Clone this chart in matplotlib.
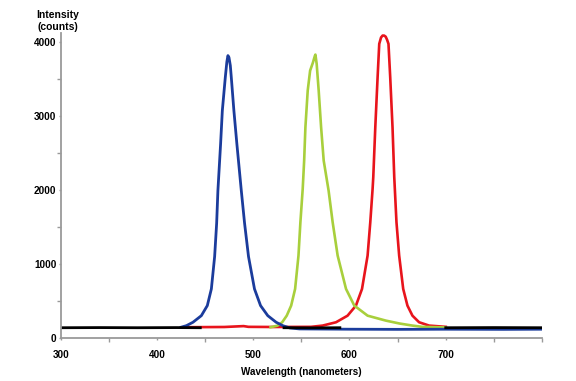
import numpy as np
from matplotlib import pyplot as plt

plt.rcParams['font.family'] = ['Liberation Sans', 'DejaVu Sans']

# emission spectra (wavelength nm, counts)
blue_nm = [425, 430.6, 437.4, 446.1, 452.3, 456.5, 459.9, 462.0, 463.3, 466.1, 467.9, 471.0,
           472.6, 473.7, 474.8, 476.2, 477.2, 479.9, 483.0, 487.6, 491.0, 495.1, 501.3,
           507.6, 515.1, 523.8, 530.7, 538, 548, 600, 650, 700, 760, 800]
blue_ct = [145, 166, 212, 301, 437, 662, 1099, 1550, 1991, 2622, 3072, 3523,
           3730, 3815, 3790, 3680, 3523, 3072, 2622, 1991, 1550, 1099, 662,
           437, 301, 212, 166, 135, 122, 118, 116, 118, 116, 118]

green_nm = [518, 525, 530.1, 534.8, 539.4, 543.5, 547.0, 549.0, 551.4, 552.9, 554.2, 556.6,
            559.1, 562.0, 564.0, 564.6, 565.9, 568.0, 570.5, 573.2, 578.3, 582.5, 587.7,
            596.4, 605.0, 618.8, 637.8, 652, 665.4, 675.5, 690, 700]
green_ct = [145, 165, 212, 301, 437, 662, 1112, 1564, 2014, 2396, 2847, 3342,
            3612, 3720, 3810, 3828, 3703, 3342, 2847, 2396, 1990, 1564, 1112,
            662, 437, 301, 234, 195, 167, 150, 145, 142]

red_nm = [430, 470, 490, 495, 520, 560, 572.1, 586.0, 598.0, 606.7, 613.0, 618.8, 621.6,
          624.0, 624.7, 626.8, 629.2, 630.9, 632.8, 634.4, 636.0, 637.6, 639.0, 640.5,
          642.3, 644.7, 646.5, 648.8, 651.6, 655.8, 660.2, 665.4, 672.3, 682.7, 700]
red_ct = [145, 148, 160, 150, 148, 150, 167, 212, 301, 437, 662, 1112, 1564,
          2014, 2172, 2847, 3523, 3973, 4060, 4085, 4085, 4070, 4030, 3973,
          3523, 2847, 2172, 1564, 1112, 662, 437, 301, 212, 167, 150]

black_nm = [300, 340, 380, 420, 445, np.nan, 532, 560, 590, np.nan, 700, 750, 800]
black_ct = [138, 140, 138, 140, 138, np.nan, 138, 136, 138, np.nan, 138, 140, 138]

fig = plt.figure(figsize=(5.76, 3.81), dpi=100)
ax = fig.add_axes([0.1054, 0.113, 0.8356, 0.8004])

ax.plot(red_nm, red_ct, color='#e8141c', lw=1.9, solid_joinstyle='round')
ax.plot(green_nm, green_ct, color='#a8cf3c', lw=1.9, solid_joinstyle='round')
ax.plot(blue_nm, blue_ct, color='#1b3c9c', lw=2.0, solid_joinstyle='round')
ax.plot(black_nm, black_ct, color='black', lw=2.0)

ax.set_xlim(300, 800)
ax.set_ylim(0, 4120)
ax.set_xticks([300, 400, 500, 600, 700])
ax.set_xticks([350, 450, 550, 650, 750, 800], minor=True)
ax.set_yticks([0, 1000, 2000, 3000, 4000])
ax.set_yticks([500, 1500, 2500, 3500], minor=True)

for s in ['top', 'right']:
    ax.spines[s].set_visible(False)
for s in ['left', 'bottom']:
    ax.spines[s].set_color('#9a9a9a')
    ax.spines[s].set_linewidth(1.3)

ax.tick_params(which='both', colors='#9a9a9a', labelcolor='black', labelsize=7.2, width=1)
ax.tick_params(which='major', length=1.5, pad=1.5)
ax.tick_params(which='minor', length=3)
for lbl in ax.get_xticklabels() + ax.get_yticklabels():
    lbl.set_fontweight('bold')
ax.tick_params(axis='x', pad=7)

ax.set_xlabel('Wavelength (nanometers)', fontsize=7.1, fontweight='bold', labelpad=5)
fig.text(0.1, 0.945, 'Intensity\n(counts)', ha='center', va='center',
         fontsize=7.5, fontweight='bold', linespacing=1.2)

plt.savefig('out.png', dpi=100)
